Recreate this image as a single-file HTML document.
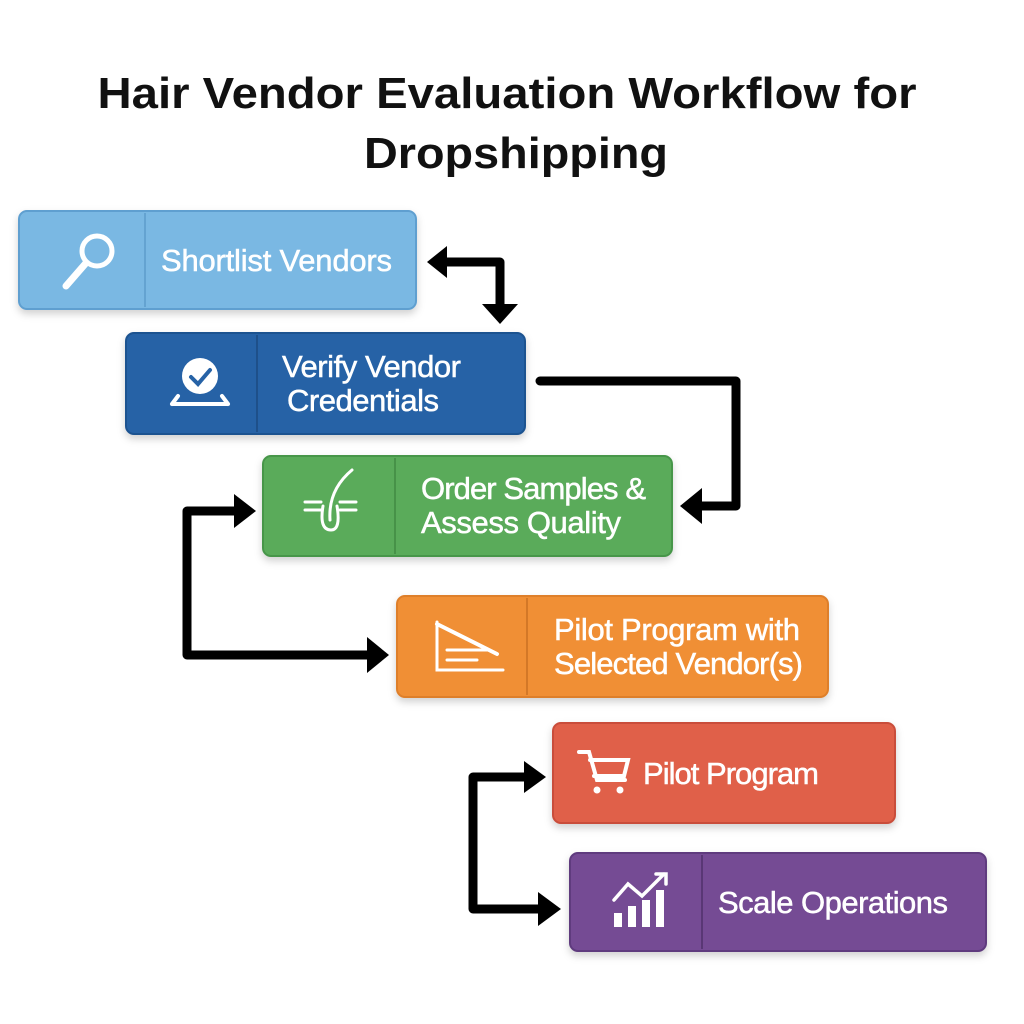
<!DOCTYPE html>
<html><head><meta charset="utf-8"><style>
html,body{margin:0;padding:0;background:#fff;}
svg{display:block;}
text{font-family:"Liberation Sans",sans-serif;}
</style></head><body>
<svg width="1024" height="1024" viewBox="0 0 1024 1024" xmlns="http://www.w3.org/2000/svg">
<defs>
<filter id="sh" x="-5%" y="-10%" width="110%" height="130%"><feDropShadow dx="0" dy="4" stdDeviation="4" flood-color="#000" flood-opacity="0.18"/></filter>
</defs>
<text x="507" y="108" text-anchor="middle" font-size="44" font-weight="bold" fill="#111" textLength="819" lengthAdjust="spacingAndGlyphs">Hair Vendor Evaluation Workflow for</text>
<text x="516" y="168" text-anchor="middle" font-size="44" font-weight="bold" fill="#111" textLength="304" lengthAdjust="spacingAndGlyphs">Dropshipping</text>

<g filter="url(#sh)">
<rect x="19" y="211" width="397" height="98" rx="8" fill="#7ab8e3" stroke="#5f9fd0" stroke-width="2"/>
<rect x="126" y="333" width="399" height="101" rx="8" fill="#2662a6" stroke="#1d5290" stroke-width="2"/>
<rect x="263" y="456" width="409" height="100" rx="8" fill="#5aab5a" stroke="#47964a" stroke-width="2"/>
<rect x="397" y="596" width="431" height="101" rx="8" fill="#f08f35" stroke="#de7f2a" stroke-width="2"/>
<rect x="553" y="723" width="342" height="100" rx="8" fill="#e0604a" stroke="#c94e3a" stroke-width="2"/>
<rect x="570" y="853" width="416" height="98" rx="8" fill="#744b94" stroke="#5f3a7e" stroke-width="2"/>
</g>
<g stroke-width="2" opacity="0.5">
<line x1="145" y1="213" x2="145" y2="307" stroke="#4f8fc0"/>
<line x1="257" y1="335" x2="257" y2="432" stroke="#173f70"/>
<line x1="395" y1="458" x2="395" y2="554" stroke="#357a38"/>
<line x1="527" y1="598" x2="527" y2="695" stroke="#b8631a"/>
<line x1="702" y1="855" x2="702" y2="949" stroke="#3e2458"/>
</g>

<g fill="#fff" font-size="31" stroke="#fff" stroke-width="0.5" lengthAdjust="spacingAndGlyphs">
<text x="161" y="271" textLength="231">Shortlist Vendors</text>
<text x="282" y="377" textLength="179">Verify Vendor</text>
<text x="287" y="411" textLength="152">Credentials</text>
<text x="421" y="499" textLength="225">Order Samples &amp;</text>
<text x="421" y="533" textLength="200">Assess Quality</text>
<text x="554" y="640" textLength="246">Pilot Program with</text>
<text x="554" y="674" textLength="249">Selected Vendor(s)</text>
<text x="643" y="784" textLength="176">Pilot Program</text>
<text x="718" y="913" textLength="230">Scale Operations</text>
</g>

<!-- icons -->
<g stroke="#fff" fill="none" stroke-linecap="round">
<circle cx="97" cy="251" r="15" stroke-width="5"/>
<line x1="86" y1="263" x2="66" y2="286" stroke-width="7"/>
<circle cx="200" cy="376" r="18" fill="#fff" stroke="none"/>
<path d="M191 377 l7 7 l12 -14" stroke="#2662a6" stroke-width="4"/>
<path d="M172 404 h56 M178 396 l-6 8 M222 396 l6 8" stroke-width="4"/>
<path d="M305 502 h16 M305 510 h16 M340 502 h16 M340 510 h16" stroke-width="3"/>
<path d="M323 506 q-4 24 8 24 q10 0 6 -24" stroke-width="3"/>
<path d="M330 520 q-2 -30 22 -50" stroke-width="3"/>
<path d="M437 622 v48 h66 M447 650 h40 M447 660 h30" stroke-width="3"/>
<path d="M437 624 l60 30" stroke-width="4"/>
<path d="M579 752 h10 l8 28 h28 M590 760 h38 l-4 16 h-30" stroke-width="4"/>
<circle cx="597" cy="790" r="3" fill="#fff"/><circle cx="620" cy="790" r="3" fill="#fff"/>
<path d="M614 900 l14 -16 l14 12 l22 -22 M656 874 h10 v10" stroke-width="3.5"/>
</g>
<g fill="#fff"><rect x="614" y="913" width="8" height="14"/><rect x="628" y="906" width="8" height="21"/><rect x="642" y="900" width="8" height="27"/><rect x="656" y="890" width="8" height="37"/></g>

<!-- connectors -->
<g stroke="#000" stroke-width="9" fill="none" stroke-linejoin="round" stroke-linecap="round">
<path d="M445 262 H500 V306"/>
<path d="M540 381 H736 V506 H700"/>
<path d="M236 511 H187 V655 H370"/>
<path d="M527 777 H473 V909 H540"/>
</g>
<g fill="#000">
<polygon points="427,262 447,246 447,278"/>
<polygon points="482,304 518,304 500,324"/>
<polygon points="680,506 702,488 702,524"/>
<polygon points="256,511 234,494 234,528"/>
<polygon points="389,655 367,637 367,673"/>
<polygon points="546,777 524,761 524,793"/>
<polygon points="561,909 538,892 538,926"/>
</g>
</svg>
</body></html>
